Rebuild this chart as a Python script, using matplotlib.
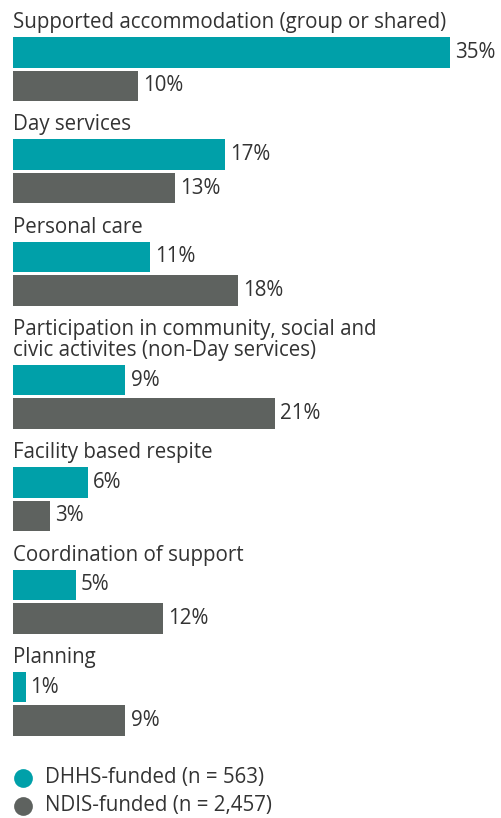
import matplotlib
matplotlib.use("Agg")
import matplotlib.pyplot as plt

plt.rcParams['font.family'] = ['Open Sans', 'DejaVu Sans']

categorias = [
    "Supported accommodation (group or shared)",
    "Day services",
    "Personal care",
    "Participation in community, social and\ncivic activites (non-Day services)",
    "Facility based respite",
    "Coordination of support",
    "Planning",
]
dhhs = [35, 17, 11, 9, 6, 5, 1]
ndis = [10, 13, 18, 21, 3, 12, 9]
series_nomes = ["DHHS-funded (n = 563)", "NDIS-funded (n = 2,457)"]

cor_dhhs = '#00A0A9'
cor_ndis = '#5E625F'
cor_texto = '#333333'
fs = 14.8

W, H = 502, 818
px_por_pct = 12.5
x0 = 13

fig = plt.figure(figsize=(W / 100, H / 100), dpi=100)
largura = 39 * px_por_pct
ax = fig.add_axes([x0 / W, 0, largura / W, 1])
ax.set_xlim(0, 39)
ax.set_ylim(H, 0)
ax.axis('off')

altura = 30.5
gap_barra = 3
linha = 21
base = 28  # baseline do primeiro rótulo
periodo = 102.3

y_teal = []
y_cinza = []
baselines = []
b = base
for cat in categorias:
    n_linhas = cat.count('\n') + 1
    baselines.append(b)
    topo = b + (n_linhas - 1) * linha + 9
    y_teal.append(topo + altura / 2)
    y_cinza.append(topo + altura + gap_barra + altura / 2)
    b = b + periodo + (n_linhas - 1) * linha

ax.barh(y_teal, dhhs, height=altura, color=cor_dhhs, align='center')
ax.barh(y_cinza, ndis, height=altura, color=cor_ndis, align='center')

for cat, bl in zip(categorias, baselines):
    for i, txt in enumerate(cat.split('\n')):
        ax.text(0, bl + i * linha, txt, fontsize=fs, color=cor_texto,
                va='baseline', ha='left')

off = 5 / px_por_pct
for v, y in zip(dhhs, y_teal):
    ax.text(v + off, y, f"{v}%", fontsize=fs, color=cor_texto, va='center', ha='left')
for v, y in zip(ndis, y_cinza):
    ax.text(v + off, y, f"{v}%", fontsize=fs, color=cor_texto, va='center', ha='left')

# legenda
leg_y = [778, 806]
for nome, cor, y in zip(series_nomes, [cor_dhhs, cor_ndis], leg_y):
    ax.scatter([10 / px_por_pct], [y], s=13.5 ** 2, color=cor, clip_on=False,
               linewidths=0)
    ax.text(32 / px_por_pct, y, nome, fontsize=fs, color=cor_texto,
            va='center', ha='left')

fig.savefig('out.png', dpi=100)
